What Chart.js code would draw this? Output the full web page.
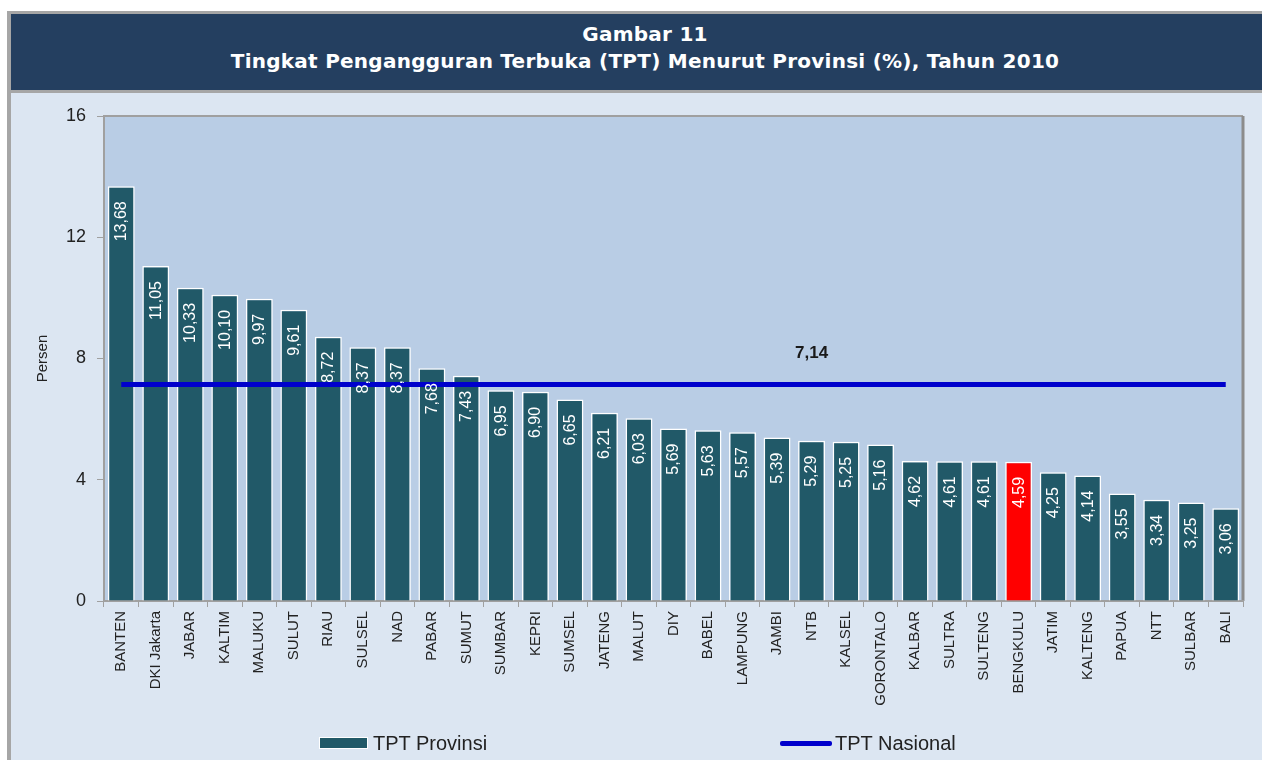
<!DOCTYPE html>
<html>
<head>
<meta charset="utf-8">
<script src="https://cdn.jsdelivr.net/npm/chart.js@4.4.0/dist/chart.umd.min.js"></script>
<style>
  body{margin:0;background:#fff;width:1262px;height:760px;overflow:hidden;position:relative;font-family:"Liberation Sans",Arial,sans-serif;}
  .frame{position:absolute;left:7px;top:11px;width:1280px;height:760px;background:#dce6f2;border-left:4px solid #a6a6a6;border-top:3px solid #a6a6a6;}
  .head{position:absolute;left:0;top:0;width:1268px;height:76px;background:#243f60;border-bottom:3px solid #a6a6a6;color:#fff;text-align:center;font-family:"DejaVu Sans",sans-serif;font-weight:bold;font-size:20px;line-height:20px;letter-spacing:0.25px;}
  .head .l1{position:absolute;left:0;right:0;top:10px;}
  .head .l2{position:absolute;left:0;right:0;top:37px;}
  #wrap{position:absolute;left:11px;top:93px;width:1251px;height:667px;}
  .leg{position:absolute;top:731px;height:24px;font-size:20px;color:#222;display:flex;align-items:center;}
</style>
</head>
<body>
<div class="frame">
  <div class="head">
    <div class="l1">Gambar 11</div>
    <div class="l2">Tingkat Pengangguran Terbuka (TPT) Menurut Provinsi (%), Tahun 2010</div>
  </div>
</div>
<div id="wrap"><canvas id="chart"></canvas></div>
<div id="legend"></div>
<script>
const provinsi=["BANTEN","DKI Jakarta","JABAR","KALTIM","MALUKU","SULUT","RIAU","SULSEL","NAD","PABAR","SUMUT","SUMBAR","KEPRI","SUMSEL","JATENG","MALUT","DIY","BABEL","LAMPUNG","JAMBI","NTB","KALSEL","GORONTALO","KALBAR","SULTRA","SULTENG","BENGKULU","JATIM","KALTENG","PAPUA","NTT","SULBAR","BALI"];
const tptProvinsi=[13.68,11.05,10.33,10.10,9.97,9.61,8.72,8.37,8.37,7.68,7.43,6.95,6.90,6.65,6.21,6.03,5.69,5.63,5.57,5.39,5.29,5.25,5.16,4.62,4.61,4.61,4.59,4.25,4.14,3.55,3.34,3.25,3.06];
const tptNasional=7.14;
const yTicks=[0,4,8,12,16];
const highlight="BENGKULU";

const fmt=v=>v.toFixed(2).replace(".",",");
const barColor="#215968", hiColor="#ff0000", lineColor="#0000cc";
const FONT="'Liberation Sans', Arial, sans-serif";

// plot background, value labels inside the bars, national label
const labelPlugin={
  id:"labelPlugin",
  beforeDraw(chart){
    const a=chart.chartArea, ctx=chart.ctx;
    ctx.save(); ctx.fillStyle="#b9cde5"; ctx.fillRect(a.left,a.top,a.right-a.left,a.bottom-a.top);
    ctx.strokeStyle="#a0a0a0"; ctx.lineWidth=2;
    ctx.beginPath(); ctx.moveTo(a.left,a.top); ctx.lineTo(a.right,a.top); ctx.stroke();
    ctx.strokeStyle="#8c8c8c"; ctx.lineWidth=3;
    ctx.beginPath(); ctx.moveTo(a.right,a.top); ctx.lineTo(a.right,a.bottom); ctx.stroke();
    ctx.restore();
  },
  afterDatasetsDraw(chart){
    const ctx=chart.ctx;
    const bars=chart.getDatasetMeta(0).data;
    ctx.save();
    ctx.fillStyle="#fff"; ctx.font="16px "+FONT;
    ctx.textAlign="right"; ctx.textBaseline="middle";
    bars.forEach((b,i)=>{
      ctx.save(); ctx.translate(b.x+0.5,b.y+15); ctx.rotate(-Math.PI/2);
      ctx.fillText(fmt(tptProvinsi[i]),0,0); ctx.restore();
    });
    const p=chart.getDatasetMeta(1).data[20];
    ctx.fillStyle="#1a1a1a"; ctx.font="bold 17px "+FONT;
    ctx.textAlign="center"; ctx.fillText(fmt(tptNasional),p.x,p.y-31);
    ctx.restore();
  }
};

new Chart(document.getElementById("chart"),{
  type:"bar",
  data:{
    labels:provinsi,
    datasets:[
      {type:"bar",label:"TPT Provinsi",data:tptProvinsi,
       backgroundColor:provinsi.map(p=>p===highlight?hiColor:barColor),
       borderColor:"#ffffff",borderWidth:1.5,barPercentage:0.78,categoryPercentage:1,order:2},
      {type:"line",label:"TPT Nasional",data:provinsi.map(()=>tptNasional),
       borderColor:lineColor,borderWidth:5,pointRadius:0,fill:false,order:1}
    ]
  },
  options:{
    responsive:true,maintainAspectRatio:false,animation:false,
    layout:{padding:{left:0,right:19,top:23,bottom:54}},
    plugins:{legend:{display:false},tooltip:{enabled:false}},
    scales:{
      x:{
        grid:{drawOnChartArea:false,drawTicks:true,tickLength:6,color:"#a0a0a0",offset:true},
        border:{color:"#a0a0a0",width:2},
        ticks:{minRotation:90,maxRotation:90,autoSkip:false,padding:4,color:"#222",font:{size:15,family:FONT}},
        afterFit(s){s.height=105;}
      },
      y:{
        min:0,max:16,
        afterBuildTicks(s){s.ticks=yTicks.map(v=>({value:v}));},
        grid:{drawOnChartArea:false,drawTicks:true,tickLength:7,color:"#a0a0a0"},
        border:{color:"#a0a0a0",width:2},
        ticks:{padding:11,color:"#222",font:{size:18,family:FONT}},
        title:{display:true,text:"Persen",color:"#222",font:{size:15,family:FONT},padding:{top:23,bottom:0}},
        afterFit(s){s.width=93;}
      }
    }
  },
  plugins:[labelPlugin]
});

// legend
document.getElementById("legend").innerHTML=
  `<div class="leg" style="left:319px"><span style="display:inline-block;width:47px;height:10px;background:${barColor};border:1px solid #fff;margin-right:5px"></span>TPT Provinsi</div>`+
  `<div class="leg" style="left:780px"><span style="display:inline-block;width:52px;height:5px;background:${lineColor};border-radius:2px;margin-right:3px"></span>TPT Nasional</div>`;
</script>
</body>
</html>
